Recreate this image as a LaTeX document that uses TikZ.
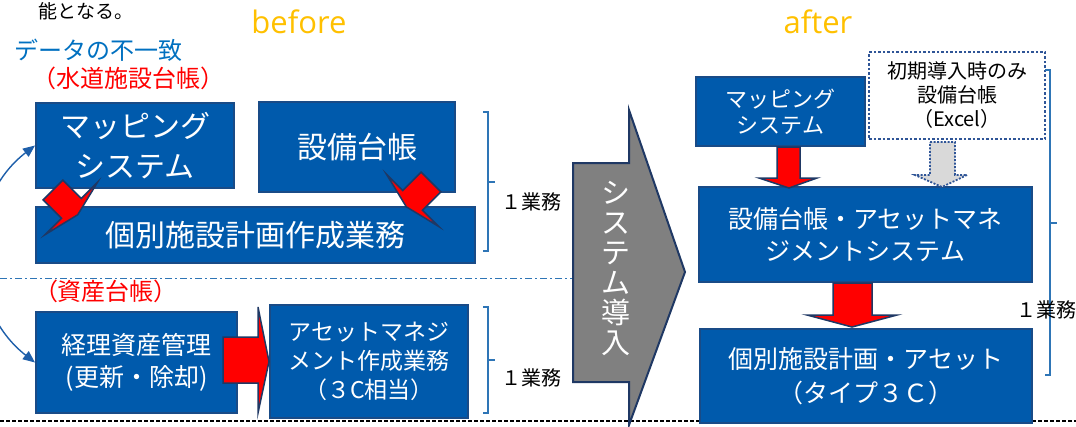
\documentclass[tikz,border=0pt]{standalone}
\usepackage{fontspec}
\setmainfont{Noto Sans CJK JP}
\newfontfamily\latinfont{Open Sans}
\usetikzlibrary{arrows.meta}
\definecolor{boxblue}{RGB}{0,90,172}
\definecolor{boxedge}{RGB}{25,75,135}
\definecolor{arrowedge}{RGB}{31,56,100}
\definecolor{orangetxt}{RGB}{255,192,0}
\definecolor{bluetxt}{RGB}{0,112,192}
\definecolor{brk}{RGB}{46,117,182}
\definecolor{arcblue}{RGB}{30,95,170}
\definecolor{grayarrow}{RGB}{128,128,128}
\definecolor{lightgrayfill}{RGB}{217,217,217}
\definecolor{dotedge}{RGB}{47,85,151}
\begin{document}
\begin{tikzpicture}[x=1pt,y=-1pt,
  bx/.style={draw=boxedge, fill=boxblue, line width=2pt, text=white, align=center, inner sep=0pt},
  redarrow/.style={fill=red, draw=arrowedge, line width=1.5pt, line join=miter},
  brace/.style={draw=brk, line width=1.2pt},
  lbl/.style={inner sep=0pt, align=center},
]
\useasboundingbox (0,0) rectangle (1076,426);
\begin{scope}
\clip (0,0) rectangle (1076,426);

% titles
\node[lbl, font=\fontsize{19}{21}\selectfont] (top) at (86,11) {能となる。};
\node[lbl, font=\latinfont\fontsize{31}{34}\selectfont, text=orangetxt] (before) at (299,22) {before};
\node[lbl, font=\latinfont\fontsize{31}{34}\selectfont, text=orangetxt] (after) at (818,22) {after};
\node[lbl, font=\fontsize{24}{26}\selectfont, text=bluetxt] (mismatch) at (98,50) {データの不一致};
\node[lbl, font=\fontsize{24}{26}\selectfont, text=red] (suido) at (128,78) {（水道施設台帳）};
\node[lbl, font=\fontsize{24}{26}\selectfont, text=red] (shisan) at (106,291) {（資産台帳）};

% left boxes
\node[bx, minimum width=198pt, minimum height=85pt, font=\fontsize{30}{40}\selectfont] (map1) at (135,145.5) {マッピング\\システム};
\node[bx, minimum width=196pt, minimum height=90pt, font=\fontsize{30}{36}\selectfont] (dai1) at (357,147) {設備台帳};
\node[bx, minimum width=439pt, minimum height=56pt, font=\fontsize{30}{36}\selectfont] (kobe1) at (255.5,235) {個別施設計画作成業務};
\node[bx, minimum width=201pt, minimum height=101pt, font=\fontsize{25}{32}\selectfont] (keiri) at (136.5,362.5) {経理資産管理\\(更新・除却)};
\node[bx, minimum width=198pt, minimum height=113pt, font=\fontsize{23}{29}\selectfont] (asset1) at (369,361.5) {アセットマネジ\\メント作成業務\\（３C相当）};

% diamond arrows into kobe1
\begin{scope}[shift={(53,190)}, rotate=-45]
  \draw[redarrow] (0,-14) -- (26,-14) -- (26,-37) -- (35,0) -- (26,37) -- (26,14) -- (0,14) -- cycle;
\end{scope}
\begin{scope}[shift={(431,182)}, rotate=-135]
  \draw[redarrow] (0,-14) -- (26,-14) -- (26,-37) -- (35,0) -- (26,37) -- (26,14) -- (0,14) -- cycle;
\end{scope}

% red right arrow keiri -> asset1
\draw[redarrow] (223,337) -- (258,337) -- (258,307) -- (asset1.west) -- (258,413) -- (258,383) -- (223,383) -- cycle;

% left arc (data mismatch)
\draw[arcblue, line width=1.4pt, {Triangle[length=12pt,width=10pt]}-{Triangle[length=12pt,width=10pt]}]
  (map1.west) .. controls (-36,200) and (-36,307) .. (keiri.west);

% separators
\coordinate (gl) at (573,278);
\draw[brk, line width=1pt, dash pattern=on 7pt off 3pt on 2pt off 3pt] (0,278) -- (gl);
\draw[black, line width=1.8pt, dash pattern=on 4pt off 2pt] (0,421) -- (1076,421);

% brackets left
\draw[brace] (483,112) -- (488,112) -- (488,251) -- (483,251);
\draw[brace] (488,182) -- (495,182);
\node[lbl, font=\fontsize{20}{22}\selectfont] (gyomu1) at (531,202) {１業務};
\draw[brace] (483,307) -- (488,307) -- (488,413) -- (483,413);
\draw[brace] (488,360) -- (495,360);
\node[lbl, font=\fontsize{20}{22}\selectfont] (gyomu2) at (531,378) {１業務};

% big gray arrow
\draw[fill=grayarrow, draw=arrowedge, line width=2pt, line join=miter]
  (573,163) -- (629,163) -- (629,110) -- (685,272) -- (629,425) -- (629,382) -- (573,382) -- cycle;
\node[lbl, text=white, font=\fontsize{29}{30}\selectfont] (intro) at (616,268) {シ\\ス\\テ\\ム\\導\\入};

% right side
\node[bx, minimum width=169pt, minimum height=69pt, font=\fontsize{22}{26}\selectfont] (map2) at (780.5,111.5) {マッピング\\システム};
\node[draw=dotedge, fill=white, line width=2.5pt, dash pattern=on 2.5pt off 2pt, align=center, inner sep=0pt,
      minimum width=176pt, minimum height=87pt, font=\fontsize{20}{24}\selectfont] (excel) at (957,95.5) {初期導入時のみ\\設備台帳\\（Excel）};
\node[bx, minimum width=333pt, minimum height=95pt, font=\fontsize{25}{32}\selectfont] (sys) at (865.5,234.5) {設備台帳・アセットマネ\\ジメントシステム};
\node[bx, minimum width=332pt, minimum height=94pt, font=\fontsize{25}{34}\selectfont] (kobe2) at (866,376) {個別施設計画・アセット\\（タイプ３Ｃ）};

% right arrows
\draw[redarrow] (777,147) -- (800,147) -- (800,178) -- (817,178) -- (789,188) -- (759,178) -- (777,178) -- cycle;
\draw[fill=lightgrayfill, draw=dotedge, line width=1.8pt, dash pattern=on 2pt off 1.5pt]
  (930,142) -- (955,142) -- (955,175) -- (967,175) -- (942,187) -- (915,175) -- (930,175) -- cycle;
\draw[redarrow] (833,283) -- (872,283) -- (872,315) -- (897,315) -- (852,327) -- (807,315) -- (833,315) -- cycle;

% right bracket
\draw[brace] (1045,70) -- (1050,70) -- (1050,375) -- (1045,375);
\draw[brace] (1050,223) -- (1057,223);
\node[lbl, font=\fontsize{20}{22}\selectfont] (gyomu3) at (1046,310) {１業務};
\end{scope}
\end{tikzpicture}
\end{document}
